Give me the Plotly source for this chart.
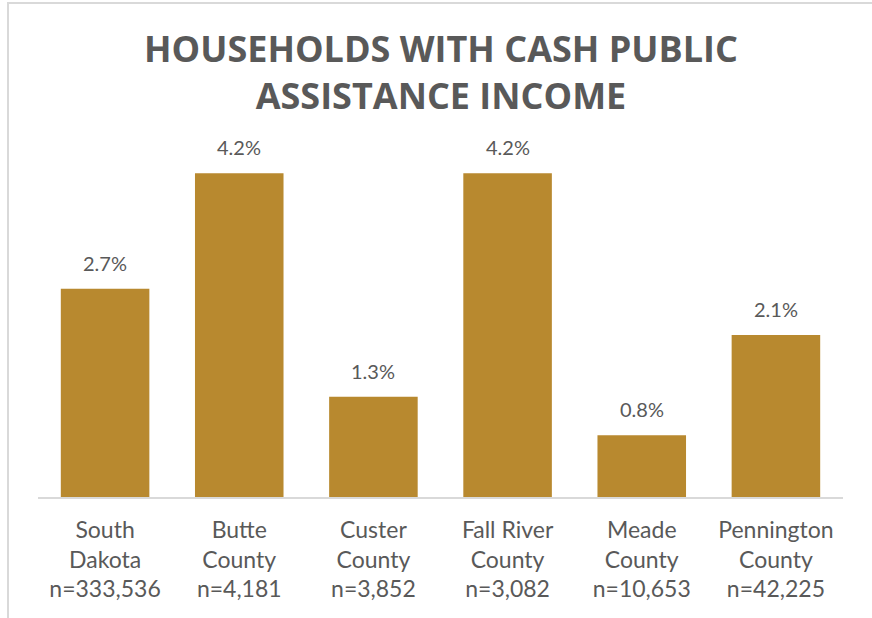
import plotly.graph_objects as go

categories = ["South Dakota", "Butte County", "Custer County", "Fall River County", "Meade County", "Pennington County"]
tick_labels = ["South<br>Dakota<br>n=333,536", "Butte<br>County<br>n=4,181", "Custer<br>County<br>n=3,852",
               "Fall River<br>County<br>n=3,082", "Meade<br>County<br>n=10,653", "Pennington<br>County<br>n=42,225"]
values = [2.7, 4.2, 1.3, 4.2, 0.8, 2.1]
title_text = "HOUSEHOLDS WITH CASH PUBLIC<br>ASSISTANCE INCOME"

BAR = "#B8892F"
GREY = "#595959"

W, H = 872, 618
ml, mr, mt, mb = 38, 29, 150, 121
pw, ph = W - ml - mr, H - mt - mb

fig = go.Figure(go.Bar(x=categories, y=values, marker_color=BAR, marker_line_width=0,
                       hoverinfo="skip"))

for c, v in zip(categories, values):
    fig.add_annotation(x=c, y=v, text=f"{v:.1f}%", showarrow=False, yanchor="bottom",
                       yshift=12, font=dict(family="Lato", size=20, color=GREY))

fig.add_annotation(x=0.5, xref="paper", y=1.0, yref="paper", yshift=mt - 22, yanchor="top",
                   text=title_text, showarrow=False,
                   font=dict(family="Open Sans", size=36, color=GREY, weight="bold"))

# chart border (partially cropped in the reference)
fig.add_shape(type="rect", xref="paper", yref="paper",
              x0=(8 - ml) / pw, x1=(W + 20 - ml) / pw,
              y0=(ph + mt - 3) / ph, y1=-(mb + 20) / ph,
              line=dict(color="#D9D9D9", width=2), layer="below")

fig.update_layout(
    width=W, height=H, margin=dict(l=ml, r=mr, t=mt, b=mb),
    paper_bgcolor="white", plot_bgcolor="white",
    bargap=0.34, showlegend=False,
    font=dict(family="Lato", color=GREY),
    xaxis=dict(tickmode="array", tickvals=categories, ticktext=tick_labels,
               tickfont=dict(size=23, color=GREY), showline=True, linecolor="#D9D9D9",
               linewidth=2, ticks="", ticklabelstandoff=11, showgrid=False, fixedrange=True),
    yaxis=dict(range=[0, 4.5], visible=False, showgrid=False, fixedrange=True),
)

fig.write_html("out.html", config={"displayModeBar": False})
